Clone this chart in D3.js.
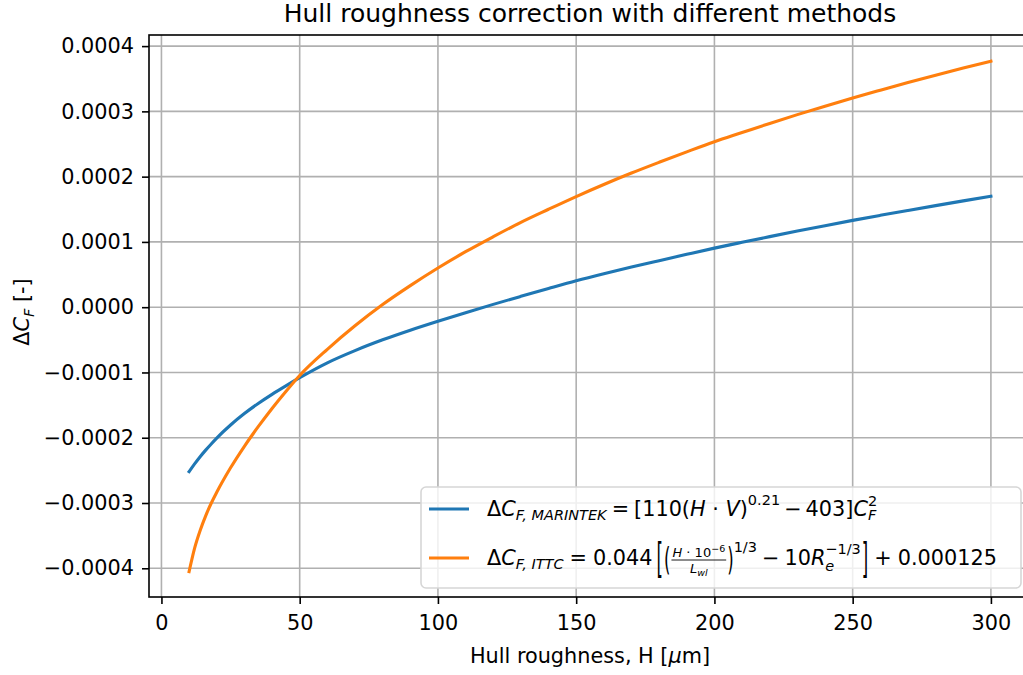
<!DOCTYPE html>
<html>
<head>
<meta charset="utf-8">
<script src="https://cdn.jsdelivr.net/npm/d3@7"></script>
<style>
  body { margin: 0; background: #fff; }
  text { font-family: 'DejaVu Sans', sans-serif; fill: #000; }
</style>
</head>
<body>
<svg id="chart" width="1023" height="675"></svg>
<script>
// hull roughness H [um]
const roughness = [10, 12, 14, 16, 18, 20, 25, 30, 35, 40, 45, 50, 60, 70, 80, 90, 100,
    110, 120, 130, 140, 150, 160, 170, 180, 190, 200, 210, 220, 230, 240, 250,
    260, 270, 280, 290, 300]

// delta CF, MARINTEK
const marintek = [-2.52e-4, -2.40e-4, -2.29e-4, -2.19e-4, -2.095e-4, -2.005e-4, -1.805e-4, -1.63e-4,
    -1.475e-4, -1.335e-4, -1.205e-4, -1.08e-4, -0.852e-4, -0.665e-4, -0.50e-4, -0.352e-4, -0.215e-4,
    -0.084e-4, 0.043e-4, 0.166e-4, 0.287e-4, 0.405e-4, 0.513e-4, 0.615e-4, 0.713e-4, 0.81e-4, 0.905e-4,
    0.994e-4, 1.081e-4, 1.166e-4, 1.249e-4, 1.33e-4, 1.407e-4, 1.482e-4, 1.556e-4, 1.629e-4, 1.70e-4]

// delta CF, ITTC
const ittc = [-4.05e-4, -3.69e-4, -3.42e-4, -3.196e-4, -3.004e-4, -2.836e-4, -2.461e-4, -2.131e-4,
    -1.831e-4, -1.551e-4, -1.291e-4, -1.046e-4, -0.645e-4, -0.285e-4, 0.04e-4, 0.33e-4, 0.60e-4,
    0.85e-4, 1.08e-4, 1.30e-4, 1.50e-4, 1.695e-4, 1.88e-4, 2.055e-4, 2.22e-4, 2.38e-4, 2.535e-4,
    2.675e-4, 2.815e-4, 2.95e-4, 3.08e-4, 3.205e-4, 3.325e-4, 3.443e-4, 3.555e-4, 3.663e-4, 3.768e-4]

const xTicks = [0, 50, 100, 150, 200, 250, 300]
const yTicks = [-0.0004, -0.0003, -0.0002, -0.0001, 0, 0.0001, 0.0002, 0.0003, 0.0004]

const svg = d3.select('#chart')
const axLeft = 149, axRight = 1031, axTop = 35, axBottom = 597
const fs = 20.8

const xScale = d3.scaleLinear().domain([-4.5, 314.5]).range([axLeft, axRight])
const yScale = d3.scaleLinear().domain([-0.000444, 0.000417]).range([axBottom, axTop])

// grid
svg.append('g').selectAll('line').data(xTicks).join('line')
    .attr('x1', d => xScale(d)).attr('x2', d => xScale(d))
    .attr('y1', axTop).attr('y2', axBottom)
    .attr('stroke', '#b0b0b0').attr('stroke-width', 1.6)
svg.append('g').selectAll('line').data(yTicks).join('line')
    .attr('x1', axLeft).attr('x2', axRight)
    .attr('y1', d => yScale(d)).attr('y2', d => yScale(d))
    .attr('stroke', '#b0b0b0').attr('stroke-width', 1.6)

// curves
const series = [
    { values: marintek, color: '#1f77b4' },
    { values: ittc, color: '#ff7f0e' }
]
const line = d3.line().x(d => xScale(d[0])).y(d => yScale(d[1])).curve(d3.curveMonotoneX)
series.forEach(s => {
    svg.append('path')
        .attr('d', line(roughness.map((h, i) => [h, s.values[i]])))
        .attr('fill', 'none')
        .attr('stroke', s.color)
        .attr('stroke-width', 3.1)
        .attr('stroke-linecap', 'square')
})

// spines
svg.append('rect')
    .attr('x', axLeft).attr('y', axTop)
    .attr('width', axRight - axLeft).attr('height', axBottom - axTop)
    .attr('fill', 'none').attr('stroke', '#000').attr('stroke-width', 1.6)

// axes
const xAxis = svg.append('g')
    .attr('transform', `translate(0,${axBottom})`)
    .call(d3.axisBottom(xScale).tickValues(xTicks).tickSize(7).tickPadding(11).tickFormat(d3.format('d')))
const yAxis = svg.append('g')
    .attr('transform', `translate(${axLeft},0)`)
    .call(d3.axisLeft(yScale).tickValues(yTicks).tickSize(7).tickPadding(8).tickFormat(d3.format('.4f')))
;[xAxis, yAxis].forEach(a => {
    a.select('.domain').remove()
    a.selectAll('line').attr('stroke', '#000').attr('stroke-width', 1.6)
    a.selectAll('text').attr('font-size', fs).attr('font-family', 'DejaVu Sans').attr('fill', '#000')
})

// simple mathtext-like layout
function flow(g, parts, x, y, base) {
    let cx = x
    parts.forEach(p => {
        if (p.gap) { cx += p.gap; return }
        if (p.stack) {
            const a = flow(g, [p.stack[0]], cx, y + p.sub, 14.5)
            const b = flow(g, [p.stack[1]], cx, y + p.sup, 14.5)
            cx = Math.max(a, b)
            return
        }
        if (p.frac) {
            const gn = g.append('g'), gd = g.append('g')
            const wn = flow(gn, p.frac[0], 0, y - 8, 13)
            const wd = flow(gd, p.frac[1], 0, y + 8, 13)
            const w = Math.max(wn, wd) + 4
            gn.attr('transform', `translate(${cx + (w - wn) / 2},0)`)
            gd.attr('transform', `translate(${cx + (w - wd) / 2},0)`)
            g.append('line').attr('x1', cx + 1).attr('x2', cx + w - 1)
                .attr('y1', y - 5).attr('y2', y - 5)
                .attr('stroke', '#000').attr('stroke-width', 0.9)
            cx += w
            return
        }
        const size = p.s || base
        const t = g.append('text')
            .attr('font-size', size)
            .attr('font-style', p.it ? 'italic' : 'normal')
            .style('white-space', 'pre')
            .text(p.t)
        if (p.sy) {
            t.attr('transform', `translate(${cx},${y + (p.dy || 0)}) scale(0.75,${p.sy})`)
            cx += t.node().getComputedTextLength() * 0.75
        } else {
            t.attr('x', cx).attr('y', y + (p.dy || 0))
            cx += t.node().getComputedTextLength()
        }
    })
    return cx
}

// title and labels
svg.append('text')
    .attr('x', (axLeft + axRight) / 2).attr('y', 22)
    .attr('text-anchor', 'middle').attr('font-size', 25)
    .text('Hull roughness correction with different methods')

const xl = svg.append('g')
const xlEnd = flow(xl, [{ t: 'Hull roughness, H [' }, { t: 'μ', it: 1 }, { t: 'm]' }], 0, 663, fs)
xl.attr('transform', `translate(${(axLeft + axRight) / 2 - xlEnd / 2},0)`)

const yl = svg.append('g')
const ylInner = yl.append('g')
const ylEnd = flow(ylInner, [{ t: 'Δ' }, { t: 'C', it: 1 }, { t: 'F', it: 1, s: 14.5, dy: 5 }, { t: ' [-]' }], 0, 0, fs)
ylInner.attr('transform', `translate(${-ylEnd / 2},0)`)
yl.attr('transform', `translate(29,312) rotate(-90)`)

// legend
const legend = svg.append('g')
legend.append('rect')
    .attr('x', 421).attr('y', 487).attr('width', 600).attr('height', 101)
    .attr('rx', 5).attr('fill', '#fff').attr('fill-opacity', 0.8)
    .attr('stroke', '#d6d6d6').attr('stroke-width', 1.6)

const legendRows = [
    {
        color: '#1f77b4', y: 509, base: 516,
        parts: [{ t: 'Δ' }, { t: 'C', it: 1 }, { t: 'F, MARINTEK', it: 1, s: 14.5, dy: 4 },
            { gap: 5 }, { t: '=' }, { gap: 5 }, { t: '[110(' }, { t: 'H', it: 1 }, { t: ' · ' }, { t: 'V', it: 1 }, { t: ')' },
            { t: '0.21', s: 14.5, dy: -11 }, { gap: 4 }, { t: '−' }, { gap: 4 }, { t: '403]' },
            { t: 'C', it: 1 }, { stack: [{ t: 'F', it: 1 }, { t: '2' }], sub: 4, sup: -10 }]
    },
    {
        color: '#ff7f0e', y: 558, base: 565,
        parts: [{ t: 'Δ' }, { t: 'C', it: 1 }, { t: 'F, ITTC', it: 1, s: 14.5, dy: 4 },
            { gap: 6 }, { t: '=' }, { gap: 6 }, { t: '0.044' }, { gap: 4 },
            { t: '[', s: 22, sy: 1.85, dy: 7 }, { gap: 1 }, { t: '(', s: 22, sy: 1.45, dy: 5 },
            { frac: [[{ t: 'H', it: 1 }, { t: ' · 10' }, { t: '−6', s: 9.5, dy: -5 }], [{ t: 'L', it: 1 }, { t: 'wl', it: 1, s: 9.5, dy: 3 }]] },
            { t: ')', s: 22, sy: 1.45, dy: 5 }, { t: '1/3', s: 14.5, dy: -13 }, { gap: 5 }, { t: '−' }, { gap: 5 },
            { t: '10' }, { t: 'R', it: 1 }, { stack: [{ t: 'e', it: 1 }, { t: '−1/3' }], sub: 6, sup: -11 },
            { gap: 1 }, { t: ']', s: 22, sy: 1.85, dy: 7 }, { gap: 6 }, { t: '+' }, { gap: 6 }, { t: '0.000125' }]
    }
]
legendRows.forEach(r => {
    legend.append('line')
        .attr('x1', 429).attr('x2', 469).attr('y1', r.y).attr('y2', r.y)
        .attr('stroke', r.color).attr('stroke-width', 3.1)
    flow(legend.append('g'), r.parts, 487, r.base, fs)
})
</script>
</body>
</html>
